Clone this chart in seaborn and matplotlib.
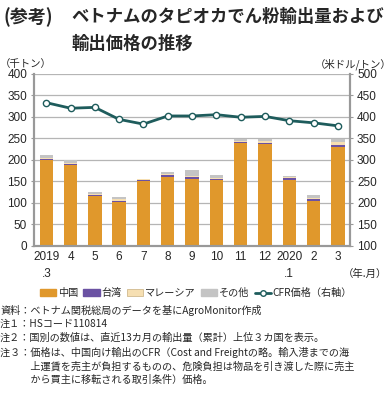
import numpy as np
import pandas as pd
import matplotlib
matplotlib.use("Agg")
import matplotlib.pyplot as plt
import matplotlib.patches as mpatches
import matplotlib.lines as mlines
import seaborn as sns

# data
months = ["2019\n.3", "4", "5", "6", "7", "8", "9", "10", "11", "12", "2020\n.1", "2", "3"]
china = [200, 187, 115, 102, 151, 161, 155, 152, 238, 236, 154, 104, 230]
taiwan = [2, 4, 2, 3, 3, 3, 5, 3, 4, 4, 3, 4, 5]
malaysia = [2, 2, 3, 3, 1, 2, 2, 2, 2, 4, 2, 4, 7]
other = [7, 6, 6, 6, 1, 6, 14, 7, 5, 5, 3, 7, 6]
cfr_price = [433, 420, 422, 394, 383, 402, 402, 405, 399, 401, 391, 386, 379]

C_CHINA = "#E0982C"
C_TAIWAN = "#6B52A3"
C_MALAY = "#F6DFB2"
C_OTHER = "#C4C4C4"
C_LINE = "#1E5C5C"

sns.set_style("white")
plt.rcParams["font.family"] = ["Noto Sans CJK JP", "DejaVu Sans"]

df = pd.DataFrame({"month": months, "china": china, "taiwan": taiwan,
                   "malaysia": malaysia, "other": other, "price": cfr_price})
df["s1"] = df["china"]
df["s2"] = df["s1"] + df["taiwan"]
df["s3"] = df["s2"] + df["malaysia"]
df["s4"] = df["s3"] + df["other"]

fig = plt.figure(figsize=(3.92, 3.95), dpi=100)
ax = fig.add_axes([0.087, 0.378, 0.806, 0.435])

# stacked bars: draw cumulative totals from back to front
for col, c in [("s4", C_OTHER), ("s3", C_MALAY), ("s2", C_TAIWAN), ("s1", C_CHINA)]:
    sns.barplot(data=df, x="month", y=col, color=c, width=0.55, ax=ax,
                saturation=1, errorbar=None, linewidth=0)

ax.set_ylim(0, 400)
ax.set_yticks(range(0, 401, 50))
ax.set_xlim(-0.5, len(months) - 0.5)
ax.set_xlabel("")
ax.set_ylabel("")
ax.yaxis.grid(True, color="#B5B5B5", linewidth=0.9)
ax.set_axisbelow(True)

ax2 = ax.twinx()
sns.lineplot(x=np.arange(len(months)), y=df["price"], ax=ax2, color=C_LINE,
             linewidth=2, marker="o", markersize=4.5, markerfacecolor="white",
             markeredgecolor=C_LINE, markeredgewidth=1)
ax2.set_ylim(100, 500)
ax2.set_yticks(range(100, 501, 50))
ax2.set_ylabel("")
ax.set_xlim(-0.5, len(months) - 0.5)

tick_font = {"family": ["Liberation Sans", "DejaVu Sans"], "size": 8.5}
ax.set_xticks(range(len(months)))
ax.set_xticklabels(months, fontdict=tick_font, linespacing=1.5, va="top")
ax.set_yticklabels([str(v) for v in range(0, 401, 50)], fontdict=tick_font)
ax2.set_yticklabels([str(v) for v in range(100, 501, 50)], fontdict=tick_font)
ax.set_xticks(np.arange(-0.5, len(months), 1), minor=True)
ax.tick_params(axis="x", which="major", length=0, pad=4)
ax.tick_params(axis="x", which="minor", length=3, color="#999999", direction="out")
ax.tick_params(axis="y", length=2, color="#999999", pad=3)
ax2.tick_params(axis="y", length=2, color="#999999", pad=3)

for a in (ax, ax2):
    for side in ["left", "right", "bottom"]:
        a.spines[side].set_color("#999999")
        a.spines[side].set_linewidth(1.5)
    a.spines["top"].set_visible(False)

# title and units
fig.text(0.008, 0.957, "(参考)", fontsize=13, fontweight="bold", va="center")
fig.text(0.183, 0.957, "ベトナムのタピオカでん粉輸出量および", fontsize=12.5,
         fontweight="bold", va="center")
fig.text(0.183, 0.888, "輸出価格の推移", fontsize=12.5, fontweight="bold", va="center")
fig.text(0.0, 0.838, "（千トン）", fontsize=7.5, va="center")
fig.text(1.0, 0.838, "（米ドル/トン）", fontsize=7.5, va="center", ha="right")
fig.text(0.93, 0.306, "（年.月）", fontsize=7.5, va="center", ha="center")

# legend
handles = [
    mpatches.Patch(color=C_CHINA, label="中国"),
    mpatches.Patch(color=C_TAIWAN, label="台湾"),
    mpatches.Patch(facecolor=C_MALAY, edgecolor="#C8B080", linewidth=0.5, label="マレーシア"),
    mpatches.Patch(color=C_OTHER, label="その他"),
    mlines.Line2D([], [], color=C_LINE, linewidth=2, marker="o", markersize=4,
                  markerfacecolor="white", markeredgecolor=C_LINE, label="CFR価格（右軸）"),
]
fig.legend(handles=handles, loc="center", bbox_to_anchor=(0.5, 0.258), ncol=5,
           frameon=False, fontsize=7.3, handlelength=1.6, handleheight=0.6,
           handletextpad=0.2, columnspacing=0.5, borderpad=0)

# notes
notes = [
    "資料：ベトナム関税総局のデータを基にAgroMonitor作成",
    "注１：HSコード110814",
    "注２：国別の数値は、直近13カ月の輸出量（累計）上位３カ国を表示。",
    "注３：価格は、中国向け輸出のCFR（Cost and Freightの略。輸入港までの海",
    "　　　上運賃を売主が負担するものの、危険負担は物品を引き渡した際に売主",
    "　　　から買主に移転される取引条件）価格。",
]
for i, line in enumerate(notes):
    fig.text(0.0, 0.215 - i * 0.0355, line, fontsize=7.3, va="center")

fig.savefig("out.png", dpi=100)
